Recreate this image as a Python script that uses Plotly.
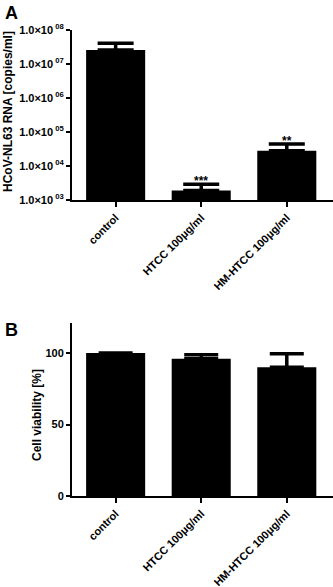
import plotly.graph_objects as go
import math

categories = ["control", "HTCC 100μg/ml", "HM-HTCC 100μg/ml"]
rna_values = [2.6e7, 1.9e3, 2.8e4]
rna_err_upper = [4.1e7, 2.9e3, 4.4e4]
rna_stars = ["", "***", "**"]
rna_tickvals = [1e3, 1e4, 1e5, 1e6, 1e7, 1e8]
rna_ticktext = ["1.0×10<sup> 03</sup>", "1.0×10<sup> 04</sup>", "1.0×10<sup> 05</sup>",
                "1.0×10<sup> 06</sup>", "1.0×10<sup> 07</sup>", "1.0×10<sup> 08</sup>"]
viab_values = [100, 96, 90]
viab_err = [0, 2.8, 9.5]
viab_tickvals = [0, 50, 100]

FONT = "Liberation Sans, Arial, sans-serif"
W, H = 333, 587

fig = go.Figure()
fig.add_trace(go.Bar(
    x=categories, y=rna_values, xaxis="x", yaxis="y",
    marker=dict(color="black", line=dict(width=0)), width=0.69,
    error_y=dict(type="data", symmetric=False,
                 array=[u - v for u, v in zip(rna_err_upper, rna_values)],
                 arrayminus=[0, 0, 0], color="black", thickness=3.5, width=18),
    showlegend=False))
fig.add_trace(go.Bar(
    x=categories, y=viab_values, xaxis="x2", yaxis="y2",
    marker=dict(color="black", line=dict(width=0)), width=0.69,
    error_y=dict(type="data", symmetric=False, array=viab_err,
                 arrayminus=[0, 0, 0], color="black", thickness=3.5, width=17),
    showlegend=False))

def px_dom(top, bottom):
    return [1 - bottom / H, 1 - top / H]

xdom = [72 / W, 1.0]
axfont = dict(family=FONT, size=11, color="black", weight="bold")
common_x = dict(showline=True, linecolor="black", linewidth=2, ticks="outside",
                ticklen=5, tickwidth=2, tickcolor="black", tickangle=-45,
                tickfont=dict(family=FONT, size=11, color="black", weight="bold"),
                range=[-0.51, 2.54], showgrid=False, zeroline=False,
                automargin=False)
common_y = dict(showline=True, linecolor="black", linewidth=2, ticks="outside",
                ticklen=4, tickwidth=2, tickcolor="black", tickfont=axfont,
                showgrid=False, zeroline=False, automargin=False)

fig.update_layout(
    width=W, height=H, margin=dict(l=0, r=0, t=0, b=0),
    paper_bgcolor="white", plot_bgcolor="white", bargap=0.31,
    xaxis=dict(domain=xdom, anchor="y", **common_x),
    yaxis=dict(domain=px_dom(30, 200), anchor="x", type="log", range=[3, 8],
               tickvals=rna_tickvals, ticktext=rna_ticktext, **common_y),
    xaxis2=dict(domain=xdom, anchor="y2", **common_x),
    yaxis2=dict(domain=px_dom(323, 496), anchor="x2", range=[0, 121],
                tickvals=viab_tickvals, **common_y),
)

annotations = []
for c, s, e in zip(categories, rna_stars, rna_err_upper):
    if s:
        annotations.append(dict(x=c, y=math.log10(e), xref="x", yref="y", text=s,
                                showarrow=False, yanchor="bottom", yshift=-6,
                                font=dict(family=FONT, size=12, color="black", weight="bold")))
annotations += [
    dict(x=3 / W, y=1 - 1 / H, xref="paper", yref="paper", text="A", showarrow=False,
         xanchor="left", yanchor="top", font=dict(family=FONT, size=18, color="black", weight="bold")),
    dict(x=3 / W, y=1 - 318 / H, xref="paper", yref="paper", text="B", showarrow=False,
         xanchor="left", yanchor="top", font=dict(family=FONT, size=18, color="black", weight="bold")),
    dict(x=8 / W, y=1 - 112 / H, xref="paper", yref="paper", text="HCoV-NL63 RNA [copies/ml]",
         textangle=-90, showarrow=False, xanchor="center", yanchor="middle",
         font=dict(family=FONT, size=12, color="black", weight="bold")),
    dict(x=37 / W, y=1 - 415 / H, xref="paper", yref="paper", text="Cell viability [%]",
         textangle=-90, showarrow=False, xanchor="center", yanchor="middle",
         font=dict(family=FONT, size=12, color="black", weight="bold")),
]
fig.update_layout(annotations=annotations)

fig.write_html("out.html", config={"displayModeBar": False},
               post_script="document.body.style.margin='0px';")
